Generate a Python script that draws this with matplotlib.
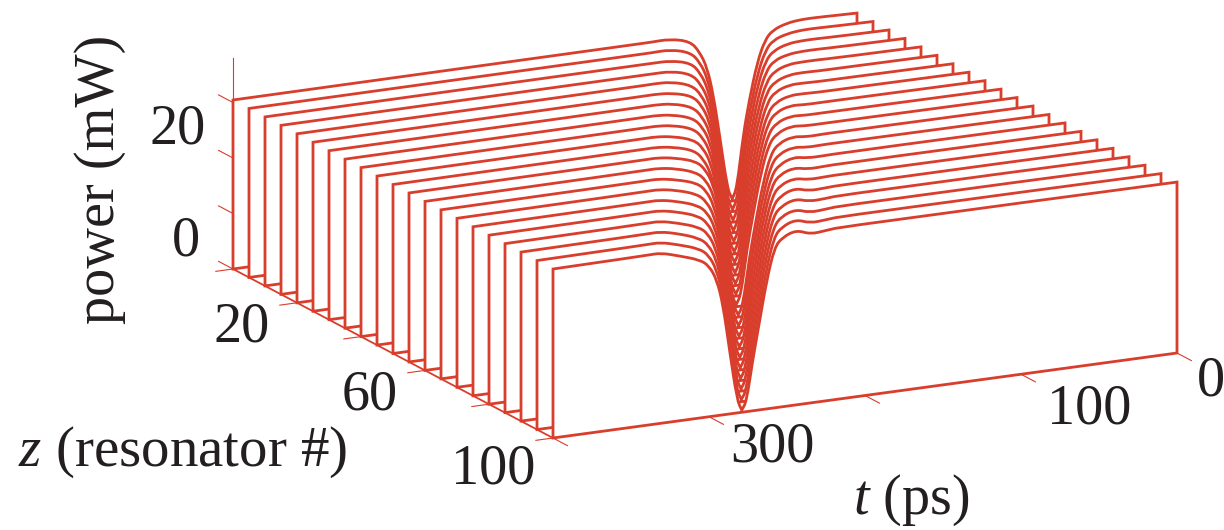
import numpy as np
import matplotlib
matplotlib.use("Agg")
import matplotlib.pyplot as plt
from matplotlib.path import Path
from matplotlib.patches import PathPatch

plt.rcParams['font.family'] = ['Liberation Serif', 'DejaVu Serif']
plt.rcParams['mathtext.fontset'] = 'custom'
plt.rcParams['mathtext.rm'] = 'Liberation Serif'
plt.rcParams['mathtext.it'] = 'Liberation Serif:italic'

# resonator number of each trace, back to front
z_vals = [0, 5, 10, 15, 20, 25, 30, 35, 40, 45, 50, 55, 60, 65, 70, 75, 80, 85, 90, 95, 100]
# time of the dip in each trace (ps)
dip_t = [80, 90, 100, 110, 120, 130, 140, 150, 160, 170, 180, 189, 199, 209, 219, 229, 239, 249, 259, 269, 279]
# sample times relative to the dip (ps)
offsets = [60, 52, 40, 27, 21, 16, 12, 8, 3, 0, -3, -7, -11, -16, -21, -26, -35, -44, -54, -66]
# power (mW) at those offsets, one row per trace
power = [
    [30.6, 30.6, 30.7, 29.8, 27.7, 24.6, 19.4, 12.0, 2.2, 0.4, 2.2, 11.5, 17.8, 24.3, 28.2, 29.8, 30.7, 31.0, 31.0, 30.9],
    [30.6, 30.6, 30.7, 29.7, 27.7, 24.6, 19.4, 12.0, 2.2, 0.4, 2.2, 11.4, 17.7, 24.2, 28.2, 29.9, 30.7, 31.0, 31.0, 30.9],
    [30.6, 30.6, 30.6, 29.7, 27.7, 24.6, 19.5, 12.0, 2.2, 0.4, 2.2, 11.3, 17.6, 24.2, 28.3, 29.9, 30.8, 31.0, 31.0, 30.9],
    [30.6, 30.6, 30.6, 29.6, 27.6, 24.6, 19.5, 12.0, 2.2, 0.4, 2.1, 11.1, 17.4, 24.1, 28.3, 30.0, 30.8, 31.0, 31.0, 30.9],
    [30.6, 30.7, 30.6, 29.5, 27.6, 24.6, 19.5, 12.0, 2.2, 0.4, 2.1, 11.0, 17.3, 24.0, 28.3, 30.0, 30.9, 31.0, 31.0, 30.9],
    [30.6, 30.7, 30.5, 29.5, 27.6, 24.6, 19.5, 12.0, 2.2, 0.4, 2.1, 10.9, 17.2, 24.0, 28.4, 30.0, 30.9, 31.0, 30.9, 30.9],
    [30.6, 30.7, 30.5, 29.4, 27.5, 24.6, 19.6, 12.0, 2.2, 0.4, 2.1, 10.8, 17.0, 23.9, 28.4, 30.1, 31.0, 31.0, 30.9, 30.9],
    [30.6, 30.7, 30.4, 29.3, 27.5, 24.6, 19.6, 11.9, 2.2, 0.4, 2.1, 10.6, 16.9, 23.8, 28.4, 30.1, 31.0, 31.0, 30.9, 30.9],
    [30.6, 30.7, 30.4, 29.3, 27.5, 24.6, 19.6, 11.9, 2.2, 0.4, 2.0, 10.5, 16.8, 23.8, 28.5, 30.2, 31.1, 30.9, 30.9, 30.9],
    [30.6, 30.7, 30.3, 29.2, 27.5, 24.6, 19.6, 11.9, 2.2, 0.4, 2.0, 10.4, 16.6, 23.7, 28.5, 30.2, 31.1, 30.9, 30.9, 30.9],
    [30.6, 30.7, 30.3, 29.2, 27.4, 24.5, 19.6, 11.9, 2.2, 0.4, 2.0, 10.3, 16.5, 23.7, 28.5, 30.2, 31.2, 30.9, 30.9, 30.9],
    [30.6, 30.7, 30.2, 29.1, 27.4, 24.5, 19.7, 11.9, 2.2, 0.4, 2.0, 10.1, 16.4, 23.6, 28.6, 30.3, 31.2, 30.8, 30.9, 30.9],
    [30.6, 30.7, 30.2, 29.0, 27.4, 24.5, 19.7, 11.9, 2.2, 0.4, 2.0, 10.0, 16.3, 23.6, 28.6, 30.3, 31.2, 30.8, 30.9, 30.9],
    [30.6, 30.7, 30.1, 29.0, 27.4, 24.5, 19.7, 11.9, 2.2, 0.4, 1.9, 9.9, 16.1, 23.5, 28.6, 30.3, 31.3, 30.8, 30.8, 30.9],
    [30.6, 30.7, 30.1, 28.9, 27.3, 24.5, 19.7, 11.9, 2.2, 0.4, 1.9, 9.7, 16.0, 23.5, 28.7, 30.4, 31.3, 30.7, 30.8, 30.9],
    [30.6, 30.7, 30.0, 28.8, 27.3, 24.5, 19.7, 11.9, 2.3, 0.4, 1.9, 9.6, 15.9, 23.4, 28.7, 30.4, 31.3, 30.7, 30.8, 30.9],
    [30.6, 30.7, 30.0, 28.8, 27.3, 24.5, 19.8, 11.8, 2.3, 0.4, 1.9, 9.5, 15.7, 23.4, 28.7, 30.4, 31.4, 30.6, 30.7, 30.9],
    [30.6, 30.7, 29.9, 28.7, 27.3, 24.5, 19.8, 11.8, 2.3, 0.4, 1.9, 9.4, 15.6, 23.3, 28.8, 30.4, 31.4, 30.6, 30.7, 31.0],
    [30.6, 30.7, 29.9, 28.6, 27.2, 24.5, 19.8, 11.8, 2.3, 0.4, 1.9, 9.3, 15.5, 23.3, 28.8, 30.5, 31.4, 30.5, 30.7, 31.0],
    [30.6, 30.7, 29.8, 28.6, 27.2, 24.5, 19.8, 11.8, 2.3, 0.4, 1.8, 9.2, 15.4, 23.2, 28.9, 30.5, 31.5, 30.5, 30.7, 31.0],
    [30.6, 30.7, 29.7, 28.5, 27.2, 24.5, 19.8, 11.8, 2.3, 0.4, 1.8, 9.1, 15.3, 23.2, 28.9, 30.5, 31.5, 30.4, 30.7, 31.0],
]
level_t0 = 30.8    # plateau at t = 0
level_t400 = 30.45  # plateau at t = 400

t_max = 400
t_ticks = [0, 100, 200, 300, 400]
z_ticks = [0, 20, 40, 60, 80, 100]
p_ticks = [0, 10, 20, 30]
p_top = 38

rojo = '#d93d2b'
negro = '#231f20'


def proyectar(t, z, p):
    # fixed oblique view, result is in pixels of the figure
    t = np.asarray(t, dtype=float)
    z = np.asarray(z, dtype=float)
    x = 1177 - 1.56 * t + 3.2 * (z - 100)
    y = 353 + 0.2125 * t + 1.69 * (z - 100) - 5.55 * np.asarray(p, dtype=float)
    return x, y


def traza(z, t0, fila):
    # white polygon with red outline, smoothed with quadratic segments except at the dip
    t = [0.0] + [t0 + d for d in offsets[::-1]] + [float(t_max)]
    p = [level_t0] + fila[::-1] + [level_t400]
    x, y = proyectar(t, z, p)
    puntos = np.column_stack([x, y])
    i_dip = int(np.argmin(p))

    xb, yb = proyectar(0, z, 0)
    verts = [(xb, yb), tuple(puntos[0])]
    codes = [Path.MOVETO, Path.LINETO]
    for i in range(1, len(puntos) - 1):
        if i == i_dip:
            verts += [tuple(puntos[i]), tuple((puntos[i] + puntos[i + 1]) / 2)]
            codes += [Path.LINETO, Path.LINETO]
            continue
        fin = puntos[-1] if i == len(puntos) - 2 else (puntos[i] + puntos[i + 1]) / 2
        verts += [tuple(puntos[i]), tuple(fin)]
        codes += [Path.CURVE3, Path.CURVE3]
    xb2, yb2 = proyectar(t_max, z, 0)
    verts += [(xb2, yb2), (xb, yb)]
    codes += [Path.LINETO, Path.CLOSEPOLY]
    return Path(verts, codes)


fig = plt.figure(figsize=(12.24, 5.30), dpi=100)
ax = fig.add_axes([0, 0, 1, 1])
ax.set_xlim(0, 1224)
ax.set_ylim(530, 0)
ax.axis('off')

# axes and ticks
lw_fino = 0.8
xa, ya = proyectar([t_max, t_max], 0, [0, p_top])
ax.plot(xa, ya, color=rojo, lw=lw_fino, zorder=1)
for p in p_ticks:
    xa, ya = proyectar(t_max, 0, p)
    xb, yb = proyectar(t_max, -4.5, p)
    ax.plot([xa, xb], [ya, yb], color=rojo, lw=lw_fino, zorder=1)
for z in z_ticks:
    xa, ya = proyectar(t_max, z, 0)
    xb, yb = proyectar(t_max + 11, z, 0)
    ax.plot([xa, xb], [ya, yb], color=rojo, lw=lw_fino, zorder=1)
xa, ya = proyectar([t_max, t_max], [0, 100], [0, 0])
ax.plot(xa, ya, color=rojo, lw=1.3, zorder=50)
for t in t_ticks:
    xa, ya = proyectar(t, 100, 0)
    xb, yb = proyectar(t, 104.5, 0)
    ax.plot([xa, xb], [ya, yb], color=rojo, lw=lw_fino, zorder=1)

# traces, back to front
for i, z in enumerate(z_vals):
    ax.add_patch(PathPatch(traza(z, dip_t[i], power[i]), facecolor='white', edgecolor=rojo,
                           lw=2.0, joinstyle='miter', zorder=10 + i))

fs = 40.5
ax.text(178, 129, "20", fontsize=fs, color=negro, ha='center', va='center')
ax.text(186, 241, "0", fontsize=fs, color=negro, ha='center', va='center')
ax.text(100, 179, "power (mW)", fontsize=fs, color=negro, ha='center', va='center', rotation=90)
ax.text(242, 328, "20", fontsize=fs, color=negro, ha='center', va='center')
ax.text(370, 396, "60", fontsize=fs, color=negro, ha='center', va='center')
ax.text(493, 470, "100", fontsize=fs, color=negro, ha='center', va='center')
ax.text(772, 447, "300", fontsize=fs, color=negro, ha='center', va='center')
ax.text(1089, 410, "100", fontsize=fs, color=negro, ha='center', va='center')
ax.text(1211, 381, "0", fontsize=fs, color=negro, ha='center', va='center')
ax.text(18, 452, "$z$ (resonator #)", fontsize=41, color=negro, ha='left', va='center')
ax.text(911, 500, "$t$ (ps)", fontsize=fs, color=negro, ha='center', va='center')

fig.savefig("out.png", dpi=100, facecolor='white')
